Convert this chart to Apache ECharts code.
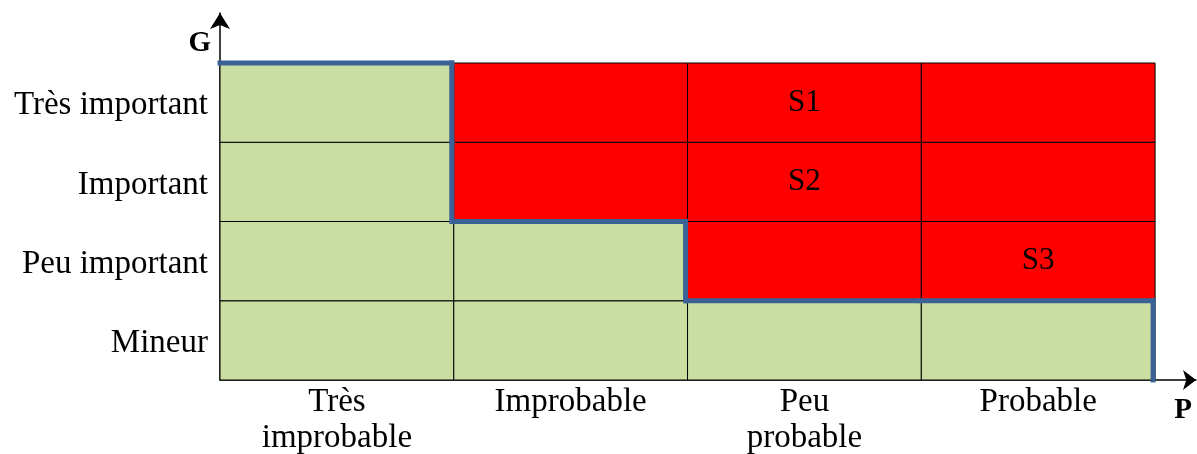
<!DOCTYPE html>
<html>
<head>
<meta charset="utf-8">
<script src="https://cdn.jsdelivr.net/npm/echarts@6/dist/echarts.min.js"></script>
<style>
  html, body { margin: 0; padding: 0; background: #fff; }
  #chart { width: 1197px; height: 454px; }
</style>
</head>
<body>
<div id="chart"></div>
<script>
// axe P (colonnes) et axe G (lignes, du bas vers le haut)
const probabilites = ['Très\nimprobable', 'Improbable', 'Peu\nprobable', 'Probable']
const gravites = ['Mineur', 'Peu important', 'Important', 'Très important']
// 0 = acceptable (vert), 1 = inacceptable (rouge)
const niveauMineur = [0, 0, 0, 0]
const niveauPeuImportant = [0, 0, 1, 1]
const niveauImportant = [0, 1, 1, 1]
const niveauTresImportant = [0, 1, 1, 1]
const niveaux = [niveauMineur, niveauPeuImportant, niveauImportant, niveauTresImportant]
// scenarios : [nom, colonne, ligne]
const scenarios = [['S1', 2, 3], ['S2', 2, 2], ['S3', 3, 1]]

const VERT = '#C9DEA0'
const ROUGE = '#FF0000'
const BLEU = '#3B6297'
const serif = 'Liberation Serif'

const cellules = []
niveaux.forEach((ligne, j) => {
  ligne.forEach((n, i) => {
    const s = scenarios.find(d => d[1] === i && d[2] === j)
    cellules.push([i, j, n, s ? s[0] : ''])
  })
})
const vertes = cellules.filter(c => c[2] === 0)

const estVert = (i, j) => j < niveaux.length && i < niveaux[0].length && niveaux[j][i] === 0

const chart = echarts.init(document.getElementById('chart'))
window.addEventListener('resize', () => chart.resize())

chart.setOption({
  animation: false,
  grid: { left: 220, right: 1, top: 13, bottom: 74, outerBoundsMode: 'none', containLabel: false },
  xAxis: {
    type: 'value',
    min: 0,
    max: 4.175,
    interval: 0.5,
    splitLine: { show: false },
    axisTick: { show: false },
    axisLine: {
      show: true,
      symbol: ['none', 'arrow'],
      symbolSize: [15, 13],
      lineStyle: { color: '#000', width: 1.5 }
    },
    axisLabel: {
      margin: 4,
      fontFamily: serif,
      fontSize: 33,
      lineHeight: 36,
      color: '#000',
      showMaxLabel: false,
      formatter: v => {
        const k = Math.floor(v)
        return v % 1 === 0.5 && k < probabilites.length ? probabilites[k] : ''
      }
    },
    name: 'P',
    nameLocation: 'end',
    nameGap: -13,
    nameTextStyle: {
      fontFamily: serif,
      fontWeight: 'bold',
      fontSize: 29,
      lineHeight: 29,
      color: '#000',
      align: 'center',
      verticalAlign: 'top',
      padding: [16, 0, 0, 0]
    }
  },
  yAxis: {
    type: 'value',
    min: 0,
    max: 4.631,
    interval: 0.5,
    splitLine: { show: false },
    axisTick: { show: false },
    axisLine: {
      show: true,
      symbol: ['none', 'arrow'],
      symbolSize: [15, 16],
      lineStyle: { color: '#000', width: 1.5 }
    },
    axisLabel: {
      margin: 12,
      color: '#000',
      showMaxLabel: false,
      formatter: v => {
        const k = Math.floor(v)
        return v % 1 === 0.5 && k < gravites.length ? '{g|' + gravites[k] + '}' : ''
      },
      rich: {
        g: { fontFamily: serif, fontSize: 33, color: '#000', padding: [6, 0, 0, 0] }
      }
    },
    name: 'G',
    nameLocation: 'end',
    nameGap: -31,
    nameTextStyle: {
      fontFamily: serif,
      fontWeight: 'bold',
      fontSize: 29,
      color: '#000',
      align: 'right',
      verticalAlign: 'middle',
      padding: [0, 9, 0, 0]
    }
  },
  series: [
    {
      type: 'custom',
      data: cellules,
      renderItem: (params, api) => {
        const i = api.value(0)
        const j = api.value(1)
        const p0 = api.coord([i, j])
        const p1 = api.coord([i + 1, j + 1])
        return {
          type: 'rect',
          shape: { x: p0[0], y: p1[1], width: p1[0] - p0[0], height: p0[1] - p1[1] },
          style: {
            fill: api.value(2) === 1 ? ROUGE : VERT,
            stroke: '#000',
            lineWidth: 1,
            text: cellules[params.dataIndex][3],
            textFill: '#000',
            fontFamily: serif,
            fontSize: 31,
            textPosition: 'inside'
          }
        }
      }
    },
    {
      // frontiere de la zone acceptable
      type: 'custom',
      data: vertes,
      z: 5,
      renderItem: (params, api) => {
        const i = api.value(0)
        const j = api.value(1)
        const p0 = api.coord([i, j])
        const p1 = api.coord([i + 1, j + 1])
        const children = []
        const style = { stroke: BLEU, lineWidth: 5, lineCap: 'square' }
        if (!estVert(i, j + 1)) {
          children.push({ type: 'line', shape: { x1: p0[0], y1: p1[1], x2: p1[0] - 2, y2: p1[1] }, style })
        }
        if (!estVert(i + 1, j)) {
          children.push({ type: 'line', shape: { x1: p1[0] - 2, y1: p1[1], x2: p1[0] - 2, y2: p0[1] }, style })
        }
        return { type: 'group', children }
      }
    }
  ]
})
</script>
</body>
</html>
